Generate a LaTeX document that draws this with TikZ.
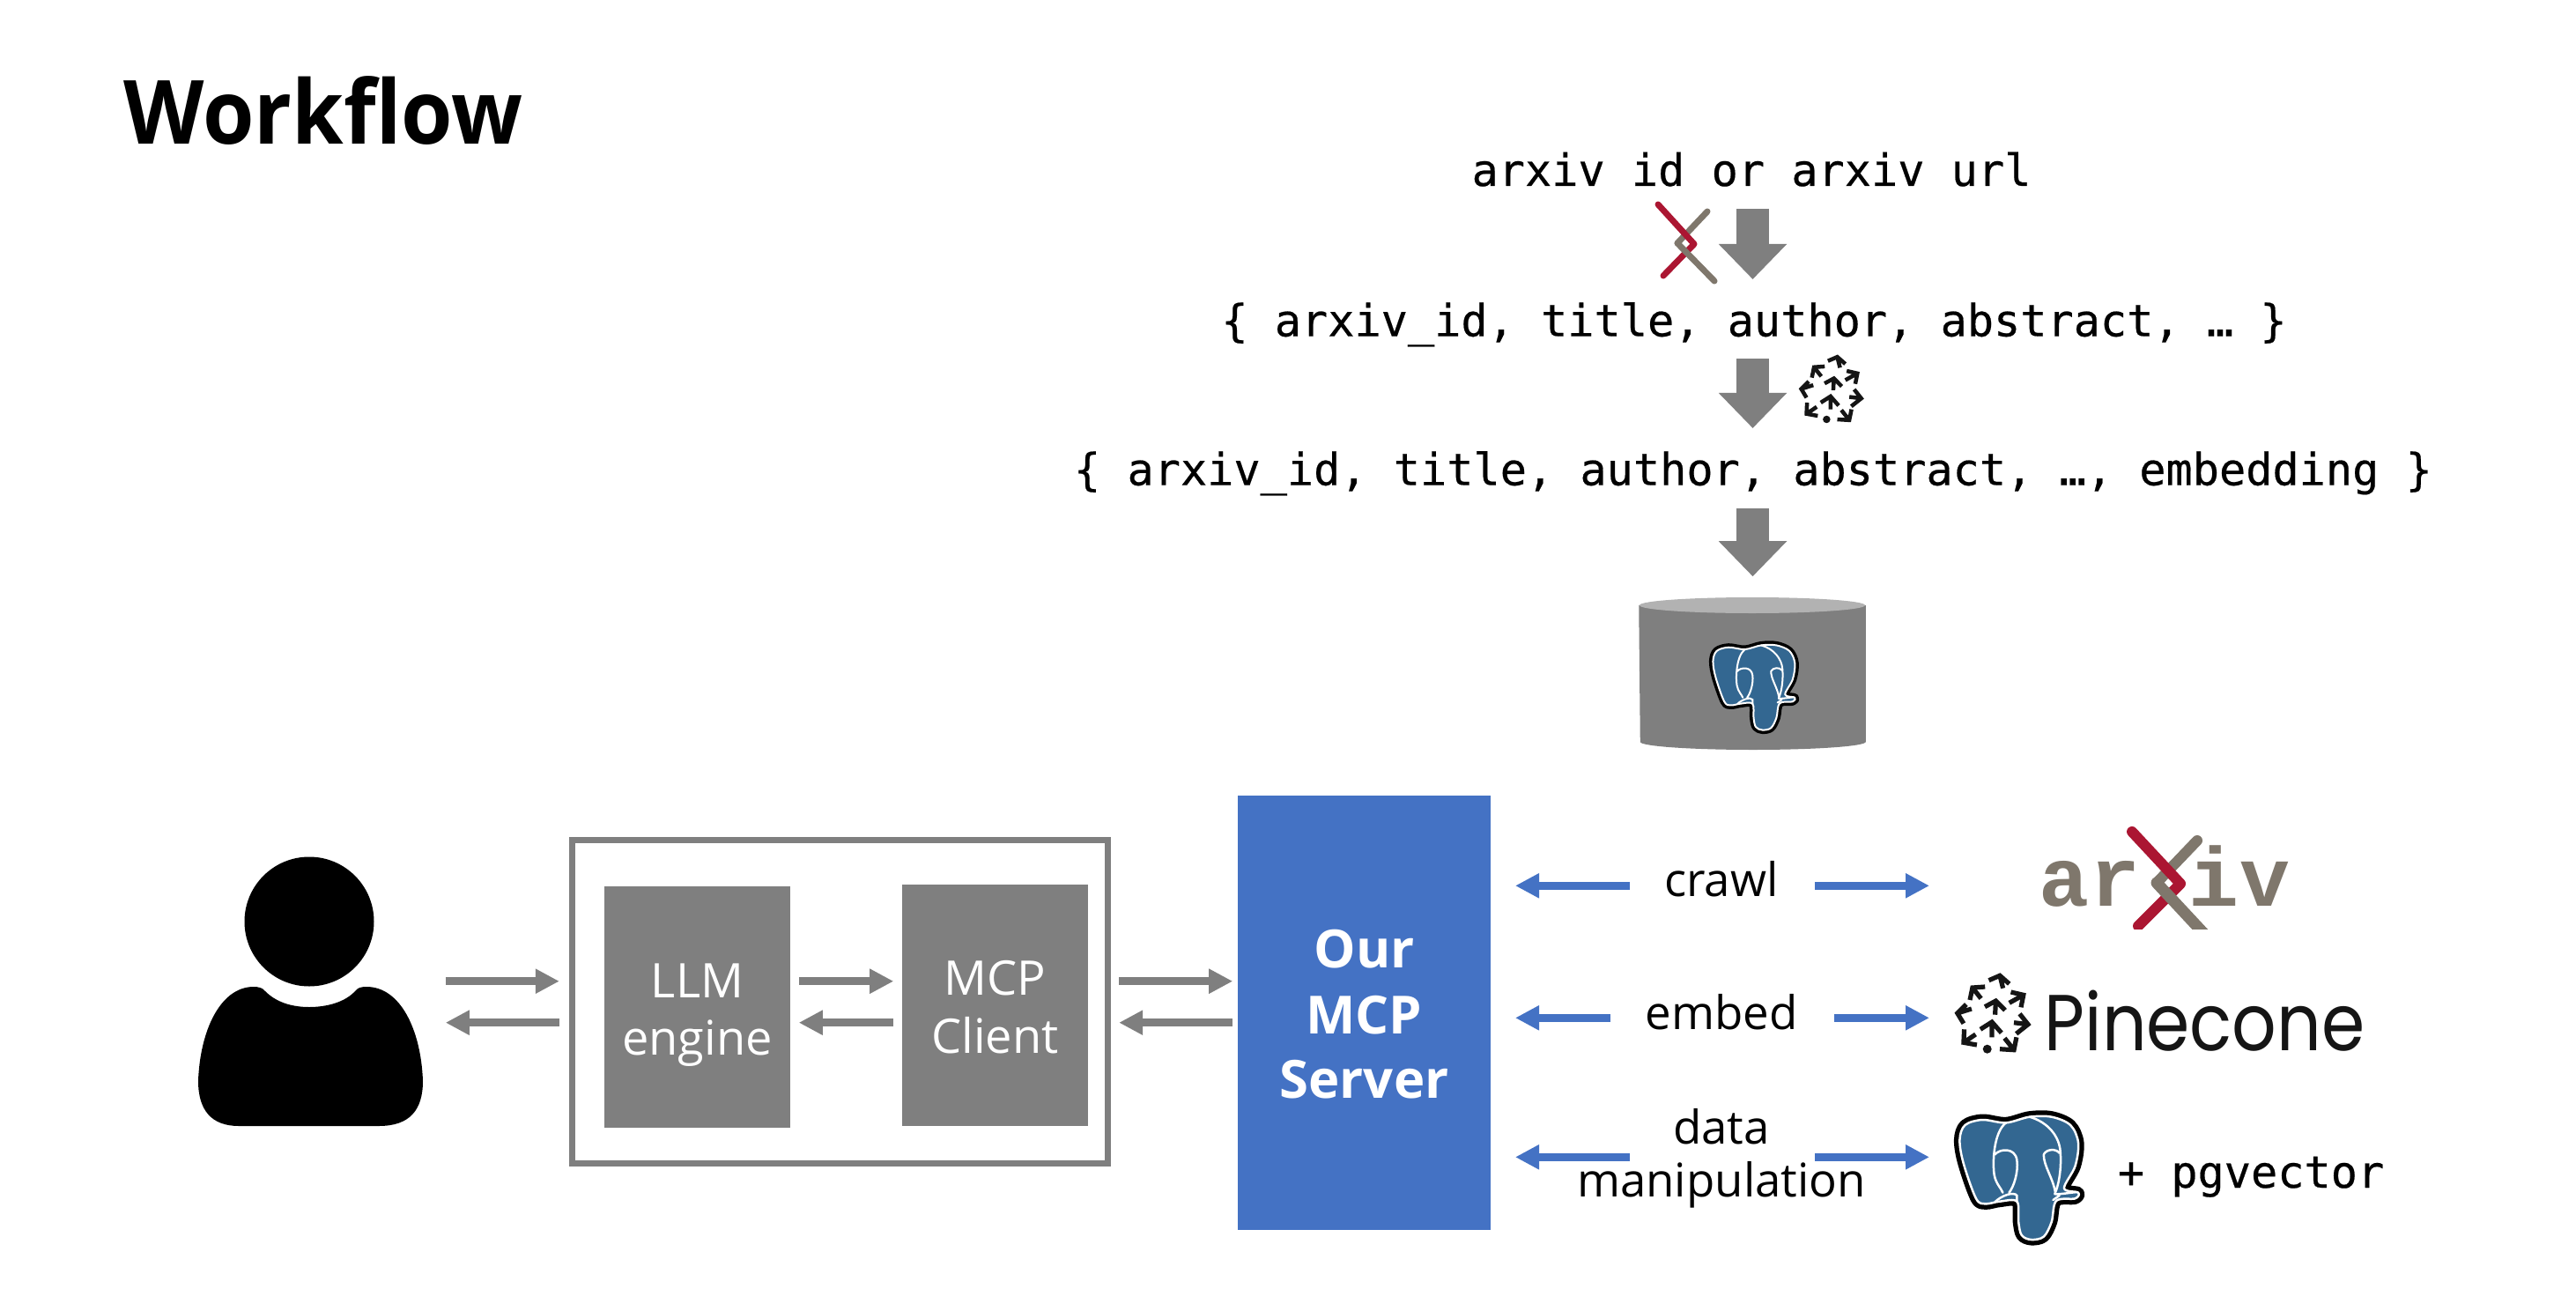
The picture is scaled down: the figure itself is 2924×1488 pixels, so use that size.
\documentclass[tikz,border=0pt]{standalone}
\usepackage{fontspec}
\usetikzlibrary{arrows.meta,calc}
\setmainfont{Open Sans}
\newfontfamily\monof[FakeBold=0.4]{DejaVu Sans Mono}
\newfontfamily\slabf[LetterSpace=2]{Liberation Mono}
\newfontfamily\pinef{Poppins}
\definecolor{boxgrey}{HTML}{7F7F7F}
\definecolor{srvblue}{HTML}{4472C4}
\definecolor{axgrey}{HTML}{7F776C}
\definecolor{axred}{HTML}{AB1632}
\definecolor{pgblue}{HTML}{336791}
\definecolor{pineblk}{HTML}{151515}
\newcommand{\bline}[2]{\raisebox{#1}[0pt][0pt]{\makebox[0pt]{#2}}}
\newcommand{\pgelephant}[5]{%
  \begin{scope}[shift={(#1,#2)},scale=#3,xscale=0.357,yscale=0.3333,shift={(-50,-1025)}]
    \def\elepath{plot[smooth cycle,tension=.55] coordinates {(140,1052)(215,1062)(290,1042)(360,1042)(420,1070)(445,1130)(435,1210)(400,1285)(445,1300)(435,1320)(375,1328)(360,1400)(335,1450)(295,1460)(265,1445)(255,1400)(250,1330)(195,1330)(150,1338)(120,1320)(80,1200)(68,1120)(85,1070)}}
    \draw[black,line width=#4*.01cm,line join=round] \elepath;
    \draw[white,fill=pgblue,line width=#5*.01cm,line join=round] \elepath;
    \draw[white,line width=#5*.01cm,line cap=round]
      (215,1062) .. controls (175,1095) and (172,1200) .. (178,1240) .. controls (183,1270) and (200,1285) .. (205,1300)
      (290,1042) .. controls (350,1060) and (385,1110) .. (388,1160) .. controls (392,1210) and (385,1270) .. (370,1305)
      (180,1170) .. controls (195,1150) and (245,1145) .. (250,1190) .. controls (255,1230) and (240,1280) .. (225,1300)
      (335,1170) .. controls (345,1150) and (375,1150) .. (385,1165)
      (335,1170) .. controls (335,1210) and (365,1250) .. (372,1300)
      (180,1332) .. controls (200,1310) and (240,1295) .. (250,1310) -- (250,1332)
      (372,1305) .. controls (395,1305) and (420,1300) .. (440,1298)
      (365,1325) -- (385,1310);
  \end{scope}}
\newcommand{\pineicon}[4]{%
  \begin{scope}[shift={(#1,#2)},scale=#3]
    \foreach \tx/\ty/\px/\py/\ax/\ay/\bx/\by in {
      53.6/15.7/50/1.3/37.5/6.7/60.7/10.7,
      28.6/27.3/18.9/15/16/29/33.2/14,
      60.7/32.3/76.8/23.3/62.5/20/74/37.3,
      44.6/45.7/45.4/30/33/36.7/56/40.7,
      17.9/39/1.8/44/11.8/34/8.9/55.7,
      66/54.7/82/56.7/72.5/44.7/68.6/67.3,
      41/71.3/41/54/27.9/62.3/51.8/66.3,
      22.5/68/8.9/77.3/9.6/62.3/23.9/80,
      55.4/72.3/66/85.7/50/84.7/68.9/71.3}{
      \draw[pineblk,line width=#4*.01cm] (\tx,\ty) -- (\px,\py) (\ax,\ay) -- (\px,\py) -- (\bx,\by);
    }
    \fill[pineblk] (35.7,84.7) circle[radius=5];
  \end{scope}}
\tikzset{
  greybox/.style={fill=boxgrey,inner sep=0pt,minimum width=2.11cm,minimum height=2.74cm,text=white,font=\fontsize{15.4pt}{18pt}\selectfont},
  srvbox/.style={fill=srvblue,inner sep=0pt,minimum width=2.87cm,minimum height=4.93cm,text=white,font=\fontsize{17pt}{20pt}\bfseries\selectfont},
  framebox/.style={draw=boxgrey,line width=.07cm,inner sep=0pt,minimum width=6.08cm,minimum height=3.67cm},
  monotext/.style={anchor=base,inner sep=0pt,font=\monof\fontsize{14.28pt}{17pt}\selectfont},
  lab/.style={anchor=base,inner sep=0pt,font=\fontsize{15pt}{18pt}\selectfont},
  flow/.style={boxgrey,line width=.09cm,-{Triangle[width=.265cm,length=.27cm]}},
  blueflow/.style={srvblue,line width=.093cm,-{Triangle[width=.265cm,length=.27cm]}},
  bigflow/.style={boxgrey,line width=.37cm,-{Triangle[width=.75cm,length=.4cm]}},
  axstroke/.style={line cap=round,line join=round}
}
\begin{document}
\begin{tikzpicture}[x=.01cm,y=-.01cm]
\useasboundingbox (0,0) rectangle (2924,1488);
% title
\node[anchor=base west,inner sep=0pt,xscale=.94,font=\fontsize{28.6pt}{32pt}\bfseries\selectfont] (title) at (140,163) {Workflow};
% pipeline
\node[monotext] (lineA) at (1988,211) {arxiv id or arxiv url};
\node[monotext] (lineB) at (1991,381.6) {\{ arxiv\_id, title, author, abstract, … \}};
\node[monotext] (lineC) at (1990,550.6) {\{ arxiv\_id, title, author, abstract, …, embedding \}};
\coordinate (col) at (1989.5,0);
\draw[bigflow] ($(lineA.base -| col)+(0,26)$) -- ($(lineB.base -| col)+(0,-64.6)$);
\draw[bigflow] ($(lineB.base -| col)+(0,25.4)$) -- ($(lineC.base -| col)+(0,-64.6)$);
% small arXiv cross
\draw[axstroke,axgrey,line width=.07cm] (1938,240) -- (1904,276);
\draw[axstroke,axred,line width=.07cm] (1882,232) -- (1923,277) -- (1888,313);
\draw[axstroke,axgrey,line width=.07cm] (1904,276) -- (1946,319);
\pineicon{2043}{404}{.85}{4.5}
% database
\node[inner sep=0pt,minimum width=2.56cm,minimum height=1.73cm] (db) at (1989,764.5) {};
\fill[boxgrey] (db.west |- 0,687) -- (db.east |- 0,687) -- (db.east |- 0,842) arc[start angle=0,end angle=180,x radius=128,y radius=9] -- cycle;
\fill[boxgrey!60!white] (1989,687) ellipse[x radius=128,y radius=9];
\draw[bigflow] ($(lineC.base -| col)+(0,26.4)$) -- ($(db.north -| col)+(0,-23)$);
\pgelephant{1940}{728.5}{.69}{9}{2}
% user icon
\node[inner sep=0pt,minimum width=2.55cm,minimum height=3.06cm] (user) at (352.5,1125) {};
\fill[black] (351,1046) ellipse[x radius=73.5,y radius=73.5];
\fill[black] (288,1120) .. controls (293,1120) and (298,1121) .. (301,1125) .. controls (313,1137) and (330,1143) .. (351,1143) .. controls (372,1143) and (392,1137) .. (403,1125) .. controls (406,1121) and (410,1120) .. (416,1120) .. controls (455,1120) and (478,1170) .. (480,1227) .. controls (480,1260) and (465,1278) .. (430,1278) -- (271,1278) .. controls (240,1278) and (225,1260) .. (225,1227) .. controls (227,1170) and (250,1120) .. (288,1120) -- cycle;
% client frame and boxes
\node[framebox] (frame) at (953.5,1137) {};
\node[greybox] (llm) at (791.5,1143) {\bline{.11cm}{LLM}\bline{-.54cm}{engine}};
\node[greybox] (client) at (1129.5,1141) {\bline{.12cm}{MCP}\bline{-.54cm}{Client}};
\node[srvbox] (server) at (1548.5,1149.5) {\bline{.505cm}{Our}\bline{-.235cm}{MCP}\bline{-.965cm}{Server}};
% grey arrows
\coordinate (rowU) at (0,1113.7);
\coordinate (rowD) at (0,1160.7);
\draw[flow] ($(user.east |- rowU)+(25,0)$) -- ($(frame.west |- rowU)+(-11,0)$);
\draw[flow] ($(frame.west |- rowD)+(-11,0)$) -- ($(user.east |- rowD)+(25,0)$);
\draw[flow] ($(llm.east |- rowU)+(9,0)$) -- ($(client.west |- rowU)+(-9,0)$);
\draw[flow] ($(client.west |- rowD)+(-9,0)$) -- ($(llm.east |- rowD)+(9,0)$);
\draw[flow] ($(frame.east |- rowU)+(9,0)$) -- ($(server.west |- rowU)+(-5,0)$);
\draw[flow] ($(server.west |- rowD)+(-5,0)$) -- ($(frame.east |- rowD)+(9,0)$);
% labels
\node[lab] (crawl) at (1954,1017) {crawl};
\node[lab] (embed) at (1954,1168) {embed};
\node[lab] (dataA) at (1954,1298) {data};
\node[lab] (dataB) at (1954,1358) {manipulation};
% logos
\node[anchor=base,inner sep=0pt,text=axgrey,font=\slabf\bfseries\fontsize{27pt}{30pt}\selectfont] (arxivA) at (2372,1028) {ar};
\node[anchor=base,inner sep=0pt,text=axgrey,font=\slabf\bfseries\fontsize{27pt}{30pt}\selectfont] (arxivB) at (2542,1028) {iv};
\begin{scope}
  \clip (2400,930) rectangle (2520,1054);
  \draw[axstroke,axgrey,line width=.12cm] (2494,954) -- (2448,1002);
  \draw[axstroke,axred,line width=.12cm] (2420,944) -- (2475,1003) -- (2427,1051);
  \draw[axstroke,axgrey,line width=.13cm] (2448,1002) -- (2502,1060);
\end{scope}
\pineicon{2220}{1106}{1}{5.2}
\node[anchor=base west,inner sep=0pt,xscale=.88,text=pineblk,font=\pinef\fontsize{25.6pt}{30pt}\selectfont] (pinecone) at (2320,1192) {Pinecone};
\pgelephant{2218}{1262}{1}{13}{2.5}
\node[monotext] (pgvector) at (2555,1348) {+ pgvector};
% blue arrows
\coordinate (logoedge) at (2190,0);
\coordinate (srvtip) at (1720,0);
\draw[blueflow] ($(crawl.base -| srvtip)+(130,-11.7)$) -- ($(crawl.base -| srvtip)+(0,-11.7)$);
\draw[blueflow] ($(crawl.base -| logoedge)+(-130,-11.7)$) -- ($(crawl.base -| logoedge)+(0,-11.7)$);
\draw[blueflow] ($(embed.base -| srvtip)+(108,-12.7)$) -- ($(embed.base -| srvtip)+(0,-12.7)$);
\draw[blueflow] ($(embed.base -| logoedge)+(-108,-12.7)$) -- ($(embed.base -| logoedge)+(0,-12.7)$);
\draw[blueflow] ($(dataA.base -| srvtip)+(130,15.3)$) -- ($(dataA.base -| srvtip)+(0,15.3)$);
\draw[blueflow] ($(dataA.base -| logoedge)+(-130,15.3)$) -- ($(dataA.base -| logoedge)+(0,15.3)$);
\end{tikzpicture}
\end{document}
